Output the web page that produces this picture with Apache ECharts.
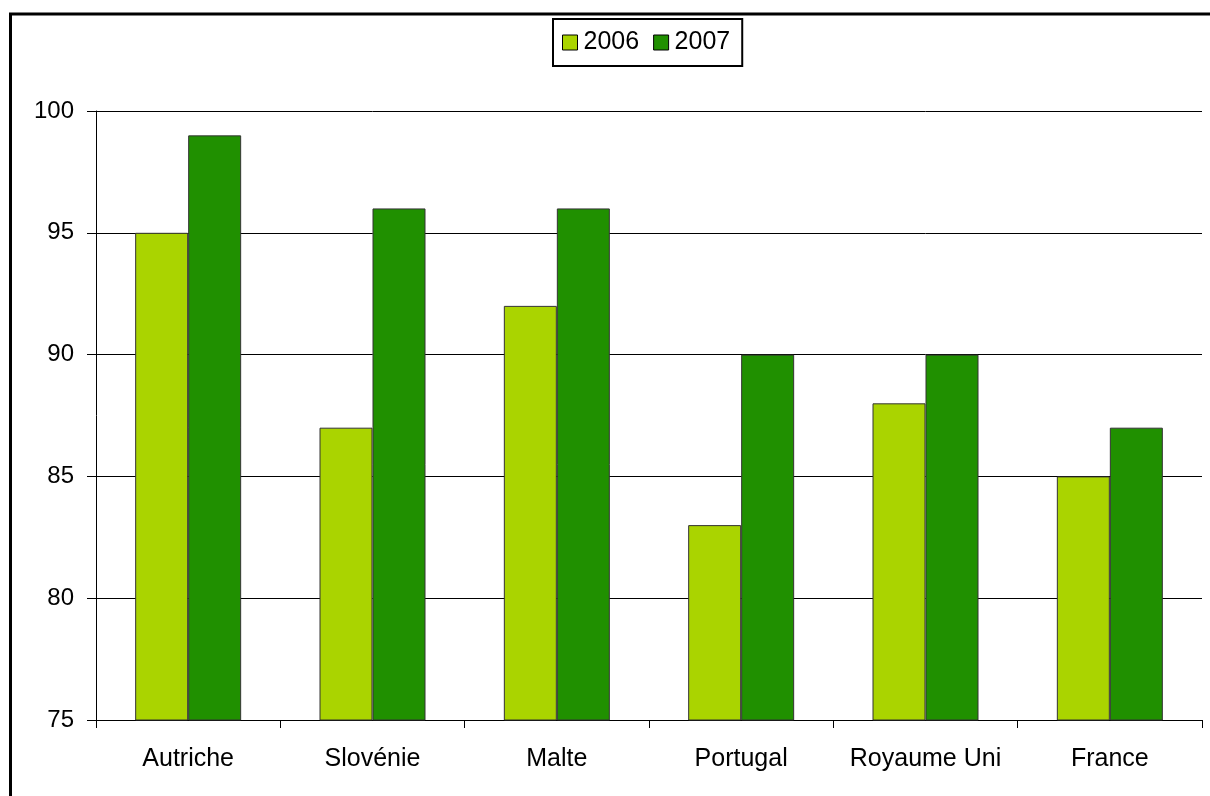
<!DOCTYPE html>
<html>
<head>
<meta charset="utf-8">
<script src="https://cdn.jsdelivr.net/npm/echarts@6/dist/echarts.min.js"></script>
<style>
  html, body { margin: 0; padding: 0; background: #fff; }
  #main { width: 1210px; height: 796px; }
</style>
</head>
<body>
<div id="main"></div>
<script>
var countries = ["Autriche", "Slovénie", "Malte", "Portugal", "Royaume Uni", "France"];
var values2006 = [95, 87, 92, 83, 88, 85];
var values2007 = [99, 96, 96, 90, 90, 87];

var myChart = echarts.init(document.getElementById("main"));

const option = {
  backgroundColor: "#fff",
  textStyle: { fontFamily: "Liberation Sans, Arial, sans-serif" },
  graphic: [
    {
      type: "rect",
      shape: { x: 10.5, y: 14, width: 1300, height: 900 },
      style: { fill: "none", stroke: "#000", lineWidth: 3 },
      silent: true
    }
  ],
  legend: {
    left: 553,
    top: 19,
    padding: [11, 12, 11, 9],
    borderColor: "#000",
    borderWidth: 2,
    itemWidth: 15,
    itemHeight: 15,
    itemGap: 14,
    icon: "rect",
    itemStyle: { borderColor: "#000", borderWidth: 1 },
    textStyle: { fontSize: 25, color: "#000", padding: [0, 0, 0, 1] },
    data: ["2006", "2007"]
  },
  grid: {
    left: 96,
    right: 8,
    top: 111,
    bottom: 76,
    containLabel: false
  },
  xAxis: {
    type: "category",
    data: countries,
    axisLine: { lineStyle: { color: "#000", width: 1 } },
    axisTick: { show: true, interval: 0, length: 8, lineStyle: { color: "#000" } },
    axisLabel: { interval: 0, fontSize: 25, color: "#000", margin: 27 }
  },
  yAxis: {
    type: "value",
    min: 75,
    max: 100,
    interval: 5,
    axisLine: { show: true, lineStyle: { color: "#000", width: 1 } },
    axisTick: { show: true, length: 9, lineStyle: { color: "#000" } },
    axisLabel: { fontSize: 24, color: "#000", margin: 22 },
    splitLine: { lineStyle: { color: "#000", width: 1 } }
  },
  series: [
    {
      name: "2006",
      type: "bar",
      data: values2006,
      barWidth: 53,
      barGap: "0%",
      itemStyle: { color: "#aad400", borderColor: "#333", borderWidth: 1 }
    },
    {
      name: "2007",
      type: "bar",
      data: values2007,
      barWidth: 53,
      barGap: "0%",
      itemStyle: { color: "#209000", borderColor: "#333", borderWidth: 1 }
    }
  ]
};

myChart.setOption(option);
</script>
</body>
</html>
